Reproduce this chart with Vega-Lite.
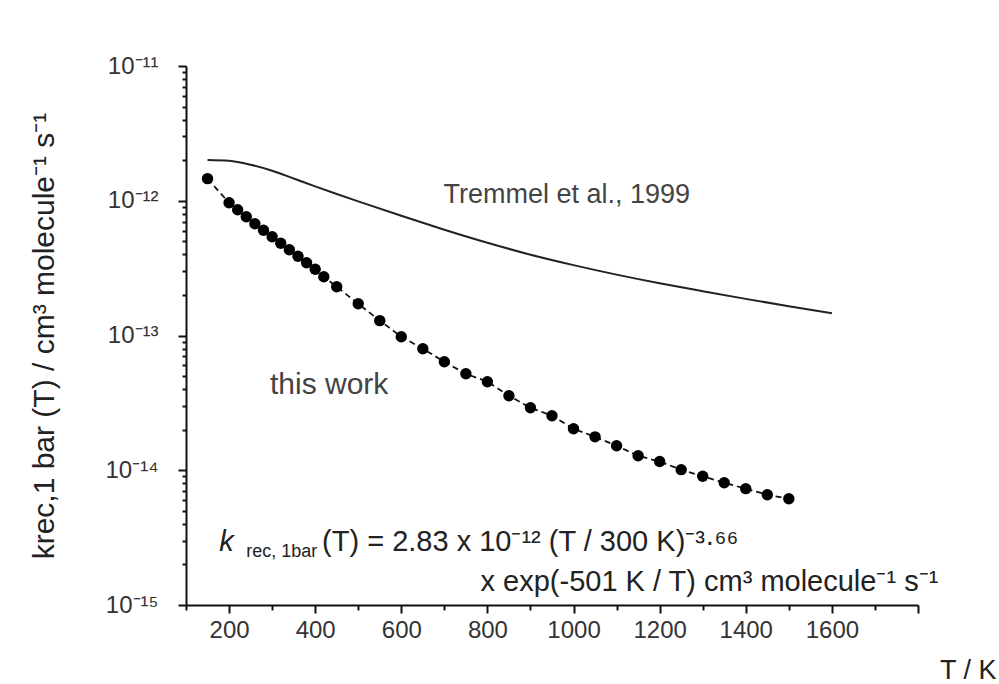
{
  "$schema": "https://vega.github.io/schema/vega-lite/v6.json",
  "width": 732,
  "height": 539,
  "autosize": "none",
  "padding": {"left": 186, "top": 66, "right": 81, "bottom": 79},
  "background": "white",
  "config": {
    "view": {"stroke": null},
    "font": "Liberation Sans",
    "axis": {"grid": false, "domainColor": "#111", "domainWidth": 2, "tickColor": "#111", "tickWidth": 2, "labelFont": "Liberation Sans", "labelColor": "#333", "titleFont": "Liberation Sans", "titleFontWeight": "normal", "titleColor": "#222"}
  },
  "datasets": {
    "thiswork": [
      {"T": 150, "k": 1.46e-12}, {"T": 200, "k": 9.66e-13}, {"T": 220, "k": 8.57e-13}, {"T": 240, "k": 7.60e-13},
      {"T": 260, "k": 6.75e-13}, {"T": 280, "k": 6.04e-13}, {"T": 300, "k": 5.41e-13}, {"T": 320, "k": 4.84e-13},
      {"T": 340, "k": 4.33e-13}, {"T": 360, "k": 3.87e-13}, {"T": 380, "k": 3.47e-13}, {"T": 400, "k": 3.10e-13},
      {"T": 420, "k": 2.73e-13}, {"T": 450, "k": 2.30e-13}, {"T": 500, "k": 1.72e-13}, {"T": 550, "k": 1.29e-13},
      {"T": 600, "k": 9.80e-14}, {"T": 650, "k": 7.98e-14}, {"T": 700, "k": 6.38e-14}, {"T": 750, "k": 5.20e-14},
      {"T": 800, "k": 4.54e-14}, {"T": 850, "k": 3.57e-14}, {"T": 900, "k": 2.91e-14}, {"T": 950, "k": 2.54e-14},
      {"T": 1000, "k": 2.03e-14}, {"T": 1050, "k": 1.77e-14}, {"T": 1100, "k": 1.52e-14}, {"T": 1150, "k": 1.28e-14},
      {"T": 1200, "k": 1.16e-14}, {"T": 1250, "k": 1.01e-14}, {"T": 1300, "k": 9.02e-15}, {"T": 1350, "k": 8.07e-15},
      {"T": 1400, "k": 7.30e-15}, {"T": 1450, "k": 6.58e-15}, {"T": 1500, "k": 6.15e-15}
    ],
    "tremmel": [
      {"T": 150, "k": 2.01e-12}, {"T": 200, "k": 1.98e-12}, {"T": 250, "k": 1.85e-12}, {"T": 300, "k": 1.67e-12},
      {"T": 350, "k": 1.462e-12}, {"T": 400, "k": 1.279e-12}, {"T": 450, "k": 1.122e-12}, {"T": 500, "k": 9.89e-13},
      {"T": 600, "k": 7.73e-13}, {"T": 700, "k": 6.10e-13}, {"T": 800, "k": 4.88e-13}, {"T": 900, "k": 3.98e-13},
      {"T": 1000, "k": 3.33e-13}, {"T": 1100, "k": 2.83e-13}, {"T": 1200, "k": 2.44e-13}, {"T": 1300, "k": 2.13e-13},
      {"T": 1400, "k": 1.87e-13}, {"T": 1500, "k": 1.65e-13}, {"T": 1600, "k": 1.46e-13}
    ]
  },
  "layer": [
    {
      "data": {"name": "tremmel"},
      "mark": {"type": "line", "color": "#222", "strokeWidth": 2, "interpolate": "monotone"},
      "encoding": {
        "x": {"field": "T", "type": "quantitative",
          "scale": {"domain": [100, 1800], "nice": false, "zero": false},
          "axis": {"values": [100,200,300,400,500,600,700,800,900,1000,1100,1200,1300,1400,1500,1600,1700,1800],
            "labelExpr": "(datum.value % 200 == 0 && datum.value <= 1600) ? datum.label : ''",
            "format": "d", "labelFontSize": 24,
            "tickSize": {"condition": {"test": "datum.value % 200 == 0", "value": 8}, "value": 5},
            "labelPadding": 5, "labelFlush": false, "labelOverlap": false,
            "title": "T / K", "titleFontSize": 27, "titleAlign": "right", "titleAnchor": "end", "titleBaseline": "alphabetic",
            "titleX": 810, "titleY": 73}},
        "y": {"field": "k", "type": "quantitative",
          "scale": {"type": "log", "domain": [1e-15, 1e-11], "nice": false},
          "axis": {"values": [1e-15,2e-15,3e-15,4e-15,5e-15,6e-15,7e-15,8e-15,9e-15,1e-14,2e-14,3e-14,4e-14,5e-14,6e-14,7e-14,8e-14,9e-14,1e-13,2e-13,3e-13,4e-13,5e-13,6e-13,7e-13,8e-13,9e-13,1e-12,2e-12,3e-12,4e-12,5e-12,6e-12,7e-12,8e-12,9e-12,1e-11],
            "labelExpr": "abs(log(datum.value)/LN10 - round(log(datum.value)/LN10)) > 0.01 ? '' : (round(log(datum.value)/LN10) == -11 ? '10⁻¹¹' : round(log(datum.value)/LN10) == -12 ? '10⁻¹²' : round(log(datum.value)/LN10) == -13 ? '10⁻¹³' : round(log(datum.value)/LN10) == -14 ? '10⁻¹⁴' : '10⁻¹⁵')",
            "labelFontSize": 24,
            "tickSize": {"condition": {"test": "abs(log(datum.value)/LN10 - round(log(datum.value)/LN10)) < 0.01", "value": 8}, "value": 4},
            "labelPadding": 20, "labelOverlap": false, "labelFlush": false,
            "title": "krec,1 bar (T) / cm³ molecule⁻¹ s⁻¹", "titleFontSize": 30, "titlePadding": 46}}
      }
    },
    {
      "data": {"name": "thiswork"},
      "mark": {"type": "line", "color": "#111", "strokeWidth": 1.8, "strokeDash": [6, 4]},
      "encoding": {"x": {"field": "T", "type": "quantitative"}, "y": {"field": "k", "type": "quantitative"}}
    },
    {
      "data": {"name": "thiswork"},
      "mark": {"type": "circle", "color": "#000", "opacity": 1, "size": 130},
      "encoding": {"x": {"field": "T", "type": "quantitative"}, "y": {"field": "k", "type": "quantitative"}}
    },
    {
      "data": {"values": [{"T": 698, "k": 1.11e-12, "label": "Tremmel et al., 1999"}]},
      "mark": {"type": "text", "align": "left", "baseline": "middle", "fontSize": 27, "color": "#444", "font": "Liberation Sans"},
      "encoding": {"x": {"field": "T", "type": "quantitative"}, "y": {"field": "k", "type": "quantitative"}, "text": {"field": "label"}}
    },
    {
      "data": {"values": [{"T": 295, "k": 4.31e-14, "label": "this work"}]},
      "mark": {"type": "text", "align": "left", "baseline": "middle", "fontSize": 30, "color": "#444", "font": "Liberation Sans"},
      "encoding": {"x": {"field": "T", "type": "quantitative"}, "y": {"field": "k", "type": "quantitative"}, "text": {"field": "label"}}
    },
    {
      "data": {"values": [{"T": 177, "k": 2.53e-15, "label": "k"}]},
      "mark": {"type": "text", "align": "left", "baseline": "alphabetic", "fontSize": 29, "fontStyle": "italic", "color": "#222", "font": "Liberation Sans"},
      "encoding": {"x": {"field": "T", "type": "quantitative"}, "y": {"field": "k", "type": "quantitative"}, "text": {"field": "label"}}
    },
    {
      "data": {"values": [{"T": 240, "k": 2.28e-15, "label": "rec, 1bar"}]},
      "mark": {"type": "text", "align": "left", "baseline": "alphabetic", "fontSize": 18, "color": "#222", "font": "Liberation Sans"},
      "encoding": {"x": {"field": "T", "type": "quantitative"}, "y": {"field": "k", "type": "quantitative"}, "text": {"field": "label"}}
    },
    {
      "data": {"values": [{"T": 416, "k": 2.53e-15, "label": "(T) =  2.83 x 10⁻¹² (T / 300 K)⁻³·⁶⁶"}, {"T": 784, "k": 1.28e-15, "label": "x exp(-501 K / T) cm³ molecule⁻¹ s⁻¹"}]},
      "mark": {"type": "text", "align": "left", "baseline": "alphabetic", "fontSize": 29, "color": "#222", "font": "Liberation Sans"},
      "encoding": {"x": {"field": "T", "type": "quantitative"}, "y": {"field": "k", "type": "quantitative"}, "text": {"field": "label"}}
    }
  ]
}
